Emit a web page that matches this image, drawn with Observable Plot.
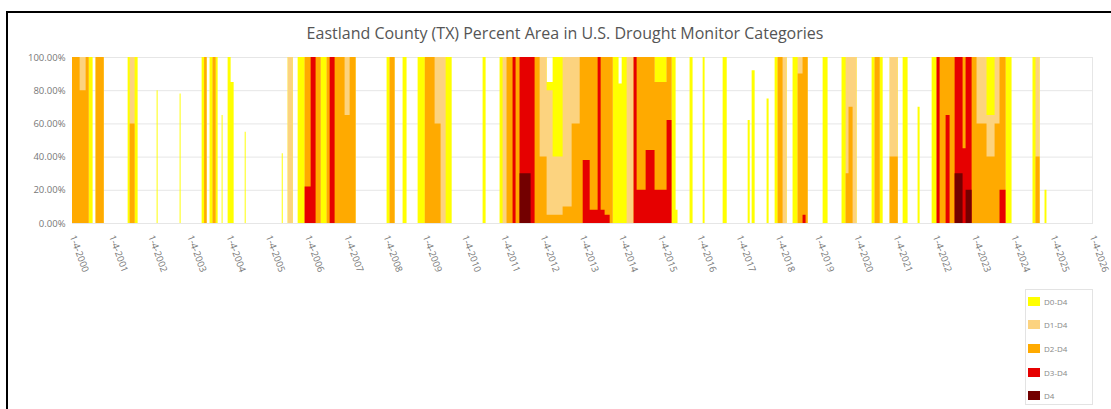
<!DOCTYPE html>
<html>
<head>
<meta charset="utf-8">
<script src="https://cdn.jsdelivr.net/npm/d3@7"></script>
<script src="https://cdn.jsdelivr.net/npm/@observablehq/plot@0.6"></script>
<style>
  html, body { margin: 0; padding: 0; background: #fff; }
  body { width: 1111px; height: 409px; overflow: hidden; position: relative; font-family: "Open Sans", sans-serif; }
  #frame { position: absolute; left: 6px; top: 11px; width: 1300px; height: 600px; border-left: 2px solid #000; border-top: 2px solid #000; }
  #chart { position: absolute; left: 0; top: 0; }
  #title { position: absolute; left: 0; top: 22px; width: 1130px; text-align: center; font-size: 16px; color: #555; white-space: nowrap; }
  #legend { position: absolute; left: 1025px; top: 289px; width: 68px; height: 116px; border: 1px solid #e3e3e3; box-sizing: border-box; background: #fff; }
  .item { position: absolute; left: 2px; height: 10px; display: flex; align-items: center; font-size: 8px; color: #888; }
  .sw { width: 12px; height: 9px; margin-right: 4px; }
</style>
</head>
<body>
<div id="frame"></div>
<div id="chart"></div>
<div id="title"></div>
<div id="legend"></div>
<script>
// ---- data (percent of county area), values hold until the next date ----
const titleText = "Eastland County (TX) Percent Area in U.S. Drought Monitor Categories";
const categories = ["D0-D4", "D1-D4", "D2-D4", "D3-D4", "D4"];
const colors = ["#ffff00", "#fcd37f", "#ffaa00", "#e60000", "#730000"];
const tickYears = [2000,2001,2002,2003,2004,2005,2006,2007,2008,2009,2010,2011,2012,2013,2014,2015,2016,2017,2018,2019,2020,2021,2022,2023,2024,2025,2026];
const yTicks = [0, 20, 40, 60, 80, 100];

const dates = [
  "2000-01-04","2000-03-15","2000-05-10","2000-06-07","2000-07-14","2000-08-11","2000-10-25",
  "2001-06-05","2001-06-24","2001-08-09","2001-09-06",
  "2002-03-02","2002-03-11","2002-10-02","2002-10-11",
  "2003-04-25","2003-05-18","2003-06-10","2003-07-08","2003-08-05","2003-09-02","2003-09-21","2003-10-28","2003-11-06","2003-12-23",
  "2004-01-20","2004-02-17","2004-05-30","2004-06-08",
  "2005-05-10","2005-05-19","2005-07-04","2005-08-20","2005-10-05","2005-12-09",
  "2006-02-03","2006-03-21","2006-05-07","2006-07-02","2006-07-30","2006-09-14","2006-12-16",
  "2007-02-01","2007-03-28",
  "2008-01-11","2008-02-08","2008-03-25","2008-06-08","2008-07-15","2008-10-26",
  "2009-01-01","2009-04-02","2009-05-28","2009-07-14","2009-09-08",
  "2010-06-23","2010-07-21","2010-11-28","2010-12-26",
  "2011-02-01","2011-03-29","2011-04-26","2011-06-02","2011-09-13","2011-10-20","2011-12-06",
  "2012-02-09","2012-04-05","2012-07-07","2012-09-29","2012-12-13",
  "2013-01-10","2013-03-16","2013-05-29","2013-06-26","2013-08-02","2013-09-18","2013-10-16","2013-12-10",
  "2014-01-08","2014-02-23","2014-04-29","2014-05-27","2014-08-19","2014-11-10",
  "2015-03-02","2015-04-17","2015-05-25","2015-06-12","2015-10-02","2015-10-30",
  "2016-02-01","2016-02-19","2016-08-05","2016-09-12",
  "2017-03-26","2017-04-14","2017-05-02","2017-05-30","2017-09-18","2017-10-07","2017-12-02","2017-12-30",
  "2018-02-14","2018-03-24","2018-05-18","2018-07-04","2018-08-19","2018-09-16","2018-10-05",
  "2019-02-22","2019-04-09","2019-08-17","2019-09-24","2019-10-21","2019-11-28",
  "2020-01-04","2020-05-23","2020-06-20","2020-08-06","2020-09-03","2020-11-07",
  "2021-01-21","2021-03-08","2021-04-23","2021-07-25","2021-08-13","2021-12-03",
  "2022-01-18","2022-02-15","2022-04-12","2022-05-19","2022-07-05","2022-09-17","2022-10-15","2022-12-10",
  "2023-01-25","2023-04-28","2023-07-12","2023-08-27","2023-10-22","2023-12-17",
  "2024-06-29","2024-07-27","2024-09-03","2024-10-19","2024-11-06"
];

const d0 = [
  100,100,100,100,0,100,0,
  100,100,100,0,
  80,0,78,0,
  100,100,0,100,100,100,0,65,0,100,
  85,0,55,0,
  42,0,100,0,100,100,
  100,100,100,100,100,100,100,
  100,0,
  100,100,0,100,0,100,
  100,100,100,100,0,
  100,0,100,100,
  100,100,100,100,100,100,100,
  85,100,100,100,100,
  100,100,100,100,100,100,100,84,
  100,100,100,100,100,100,
  100,100,8,0,100,0,
  100,0,100,0,
  62,0,92,0,75,0,100,100,
  100,0,100,100,100,100,0,
  100,0,100,100,100,100,
  0,100,100,100,0,100,
  0,100,0,70,0,100,
  100,100,100,100,100,100,100,100,
  100,100,100,100,100,0,
  100,100,0,20,0
];

const d1 = [
  100,100,100,0,0,100,0,
  0,100,0,0,
  0,0,0,0,
  0,100,0,0,100,0,0,0,0,0,
  0,0,0,0,
  0,0,100,0,0,100,
  100,100,0,100,100,100,100,
  100,0,
  0,100,0,0,0,0,
  100,100,100,0,0,
  0,0,0,100,
  100,100,100,100,100,100,100,
  80,40,100,100,100,
  100,100,100,100,100,100,0,0,
  0,100,100,100,100,85,
  100,0,0,0,0,0,
  0,0,0,0,
  0,0,0,0,0,0,0,100,
  100,0,0,100,100,100,0,
  0,0,0,100,100,100,
  0,0,100,0,0,100,
  0,0,0,0,0,0,
  100,100,100,100,100,100,100,100,
  100,65,100,100,0,0,
  0,100,0,0,0
];

const d2 = [
  100,80,100,0,0,100,0,
  0,60,0,0,
  0,0,0,0,
  0,100,0,0,100,0,0,0,0,0,
  0,0,0,0,
  0,0,0,0,0,100,
  100,100,0,100,100,100,65,
  100,0,
  0,100,0,0,0,0,
  100,60,0,0,0,
  0,0,0,0,
  100,100,100,100,100,100,40,
  5,5,10,60,100,
  100,100,100,100,100,100,0,0,
  0,0,100,100,100,85,
  100,0,0,0,0,0,
  0,0,0,0,
  0,0,0,0,0,0,0,100,
  0,0,0,90,100,100,0,
  0,0,0,30,70,0,
  0,0,100,0,0,40,
  0,0,0,0,0,0,
  100,100,100,100,100,100,100,100,
  60,40,60,100,0,0,
  0,40,0,0,0
];

const d3 = [
  0,0,0,0,0,0,0,
  0,0,0,0,
  0,0,0,0,
  0,0,0,0,0,0,0,0,0,0,
  0,0,0,0,
  0,0,0,0,0,22,
  100,0,0,0,100,0,0,
  0,0,
  0,0,0,0,0,0,
  0,0,0,0,0,
  0,0,0,0,
  0,100,0,100,100,0,0,
  0,0,0,0,0,
  38,8,100,8,5,0,0,0,
  0,0,100,20,44,20,
  62,0,0,0,0,0,
  0,0,0,0,
  0,0,0,0,0,0,0,0,
  0,0,0,0,5,0,0,
  0,0,0,0,0,0,
  0,0,0,0,0,0,
  0,0,0,0,0,0,
  100,0,65,0,100,45,100,0,
  0,0,0,20,0,0,
  0,0,0,0,0
];

const d4 = [
  0,0,0,0,0,0,0,
  0,0,0,0,
  0,0,0,0,
  0,0,0,0,0,0,0,0,0,0,
  0,0,0,0,
  0,0,0,0,0,0,
  0,0,0,0,0,0,0,
  0,0,
  0,0,0,0,0,0,
  0,0,0,0,0,
  0,0,0,0,
  0,0,0,30,0,0,0,
  0,0,0,0,0,
  0,0,0,0,0,0,0,0,
  0,0,0,0,0,0,
  0,0,0,0,0,0,
  0,0,0,0,
  0,0,0,0,0,0,0,0,
  0,0,0,0,0,0,0,
  0,0,0,0,0,0,
  0,0,0,0,0,0,
  0,0,0,0,0,0,
  0,0,0,0,30,0,20,0,
  0,0,0,0,0,0,
  0,0,0,0,0
];

// ---- build table ----
const series = [d0, d1, d2, d3, d4];
const rows = dates.map((d, i) => ({date: new Date(d + "T00:00:00Z"), v: series.map(s => s[i])}));

document.getElementById("title").textContent = titleText;

const xTicks = tickYears.map(y => new Date(Date.UTC(y, 0, 4)));

const chart = Plot.plot({
  width: 1111,
  height: 409,
  marginTop: 57,
  marginBottom: 186,
  marginLeft: 72,
  marginRight: 19,
  style: {fontFamily: "'Open Sans', sans-serif", background: "transparent"},
  x: {type: "utc", domain: [xTicks[0], xTicks[xTicks.length - 1]]},
  y: {domain: [0, 100]},
  marks: [
    Plot.gridY(yTicks, {stroke: "#e6e6e6", strokeOpacity: 1}),
    Plot.frame({stroke: "#e6e6e6"}),
    ...categories.map((c, k) => Plot.areaY(rows, {
      x: "date",
      y: r => r.v[k],
      fill: colors[k],
      curve: "step-after"
    })),
    Plot.axisY(yTicks, {
      tickSize: 0, tickPadding: 7, fontSize: 9.5, fill: "#777",
      tickFormat: d => d.toFixed(2) + "%", label: null
    }),
    Plot.axisX(xTicks, {
      tickSize: 0, tickPadding: 12, tickRotate: 70, fontSize: 9.5, fill: "#777",
      tickFormat: d => "1-4-" + d.getUTCFullYear(), label: null
    })
  ]
});
document.getElementById("chart").appendChild(chart);

// ---- legend ----
const legend = document.getElementById("legend");
categories.forEach((c, k) => {
  const it = document.createElement("div");
  it.className = "item";
  it.style.top = (6 + k * 23.7) + "px";
  it.innerHTML = `<span class="sw" style="background:${colors[k]}"></span><span>${c}</span>`;
  legend.appendChild(it);
});
</script>
</body>
</html>
